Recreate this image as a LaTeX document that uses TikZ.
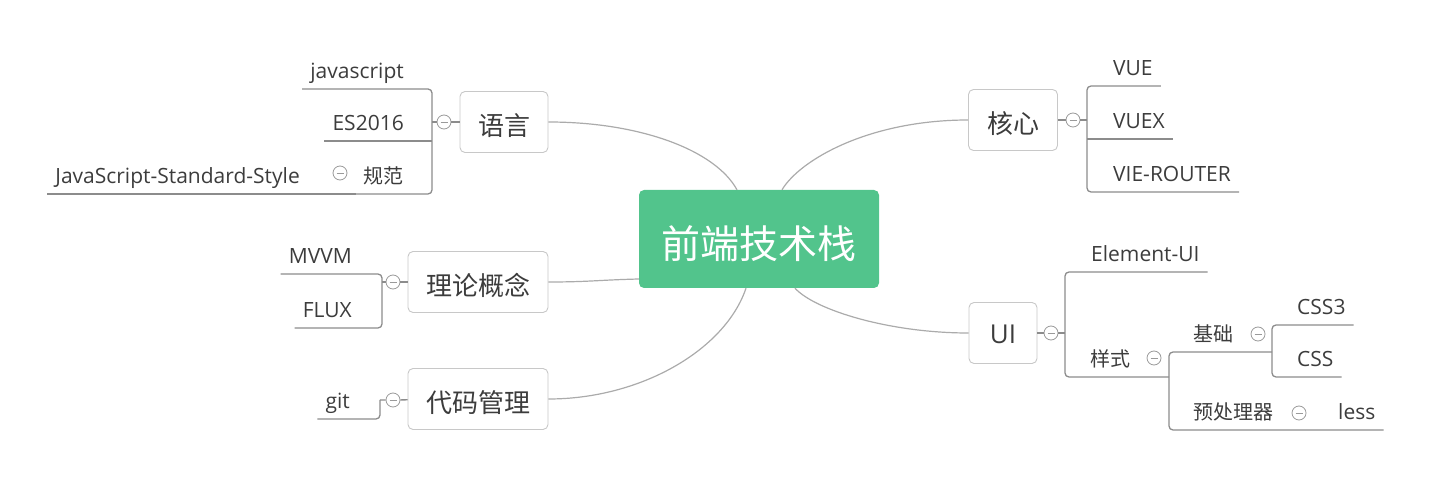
\documentclass[tikz,border=0pt]{standalone}
\usepackage{fontspec}
\setmainfont{Open Sans}
\newfontfamily\cjk{Noto Sans CJK SC}
\definecolor{rootgreen}{HTML}{52C48C}
\definecolor{ink}{HTML}{3C3C3C}
\definecolor{curvegray}{HTML}{ABABAB}
\definecolor{branchgray}{HTML}{8C8C8C}
\definecolor{boxgray}{HTML}{C8C8C8}
\definecolor{foldgray}{HTML}{9A9A9A}

\begin{document}
\begin{tikzpicture}[x=1pt,y=-1pt,
		root/.style={rectangle, rounded corners=5pt, fill=rootgreen, text=white, minimum width=240pt, minimum height=98pt, text height=40pt, text depth=0pt, font=\cjk\fontsize{39pt}{39pt}\selectfont},
		topic/.style={rectangle, rounded corners=5pt, draw=boxgray, line width=0.9pt, fill=white, text=ink, minimum height=61pt, text height=28pt, text depth=0pt, font=\fontsize{26pt}{26pt}\selectfont},
		leaf/.style={text=ink, inner xsep=8pt, inner ysep=7.5pt, text height=15pt, text depth=3pt, font=\fontsize{21pt}{21pt}\selectfont},
		cn/.style={execute at begin node=\cjk},
		cnleaf/.style={leaf, execute at begin node=\cjk\fontsize{20pt}{20pt}\selectfont},
		fold/.style={circle, draw=foldgray, line width=0.8pt, fill=white, minimum size=14pt, inner sep=0pt,
			path picture={\draw[foldgray, line width=0.8pt] ([xshift=-3.5pt]path picture bounding box.center) -- ([xshift=3.5pt]path picture bounding box.center);}},
		trunk/.style={draw=curvegray, line width=1.2pt},
		branch/.style={draw=branchgray, line width=1.3pt, rounded corners=4pt}]
	\useasboundingbox (0,0) rectangle (1436,478);
	\node[root] (root) at (759,239) {前端技术栈};
	\node[topic, cn, minimum width=88pt] (lang) at (504,122) {语言};
	\node[topic, cn, minimum width=89pt] (core) at (1013,120) {核心};
	\node[topic, cn, minimum width=140pt] (theory) at (478,282) {理论概念};
	\node[topic, cn, minimum width=140pt] (vcs) at (478,399) {代码管理};
	\node[topic, minimum width=68pt, text height=22pt] (ui) at (1003,333) {UI};
	\node[fold] (f-lang) at (444,122) {};
	\node[fold] (f-core) at (1073,120) {};
	\node[fold] (f-theory) at (393,282) {};
	\node[fold] (f-vcs) at (393,400) {};
	\node[fold] (f-ui) at (1051,333) {};
	\node[fold] (f-spec) at (340,173) {};
	\node[fold] (f-sty) at (1154,358) {};
	\node[fold] (f-basis) at (1258,334) {};
	\node[fold] (f-pre) at (1299,413) {};
	\node[leaf, anchor=south east] (js) at (412,89) {javascript};
	\node[leaf, anchor=south east] (es) at (412,141) {ES2016};
	\node[cnleaf, anchor=south east] (spec) at (412,194) {规范};
	\node[leaf, anchor=south east] (jss) at (308,194) {JavaScript-Standard-Style};
	\node[leaf, anchor=south east] (mvvm) at (360,274) {MVVM};
	\node[leaf, anchor=south east] (flux) at (360,328) {FLUX};
	\node[leaf, anchor=south east] (git) at (358,419) {git};
	\node[leaf, anchor=south west] (vue) at (1105,86) {VUE};
	\node[leaf, anchor=south west] (vuex) at (1105,139) {VUEX};
	\node[leaf, anchor=south west] (router) at (1105,192) {VIE-ROUTER};
	\node[leaf, anchor=south west] (eui) at (1083,272) {Element-UI};
	\node[cnleaf, anchor=south west] (sty) at (1082,377) {样式};
	\node[cnleaf, anchor=south west] (basis) at (1185,352) {基础};
	\node[cnleaf, anchor=south west] (pre) at (1185,430) {预处理器};
	\node[leaf, anchor=south west] (css3) at (1289,325) {CSS3};
	\node[leaf, anchor=south west] (css) at (1289,377) {CSS};
	\node[leaf, anchor=south west] (less) at (1330,430) {less};
	\coordinate (b-lang) at (432,122);
	\coordinate (b-core) at (1087,120);
	\coordinate (b-theory) at (382,282);
	\coordinate (b-vcs) at (380,400);
	\coordinate (b-ui) at (1065,333);
	\coordinate (b-sty) at (1169,377);
	\coordinate (b-basis) at (1272,352);
	\draw[trunk] ([xshift=-22pt]root.north) .. controls +(-22,-40) and +(91,0) .. (lang.east);
	\draw[trunk] ([xshift=23pt]root.north) .. controls +(18,-30) and +(-99,0) .. (core.west);
	\draw[trunk] ([yshift=-40pt]root.west) .. controls +(-40,1) and +(40,0) .. (theory.east);
	\draw[trunk] ([xshift=-13pt]root.south) .. controls +(-21,62) and +(92,0) .. (vcs.east);
	\draw[trunk] ([xshift=36pt]root.south) .. controls +(20,22) and +(-79,0) .. (ui.west);
	\draw[branch] (lang) -- (f-lang) -- (b-lang);
	\draw[branch] (core) -- (f-core) -- (b-core);
	\draw[branch] (theory) -- (f-theory) -- (b-theory);
	\draw[branch] (vcs) -- (f-vcs) -- (b-vcs);
	\draw[branch] (ui) -- (f-ui) -- (b-ui);
	\draw[branch] (js.south west) -| (b-lang) |- (spec.south west);
	\draw[branch] (es.south west) -- (es.south west -| b-lang);
	\draw[branch] (jss.south west) -- (spec.south west);
	\draw[branch] (mvvm.south west) -| (b-theory) |- (flux.south west);
	\draw[branch] (git.south west) -| (b-vcs);
	\draw[branch] (vue.south east) -| (b-core) |- (router.south east);
	\draw[branch] (b-core |- vuex.south east) -- (vuex.south east);
	\draw[branch] (eui.south east) -| (b-ui) |- (b-sty);
	\draw[branch] (b-basis) -| (b-sty) |- (less.south east);
	\draw[branch] (css3.south east) -| (b-basis) |- (css.south east);
\end{tikzpicture}
\end{document}
